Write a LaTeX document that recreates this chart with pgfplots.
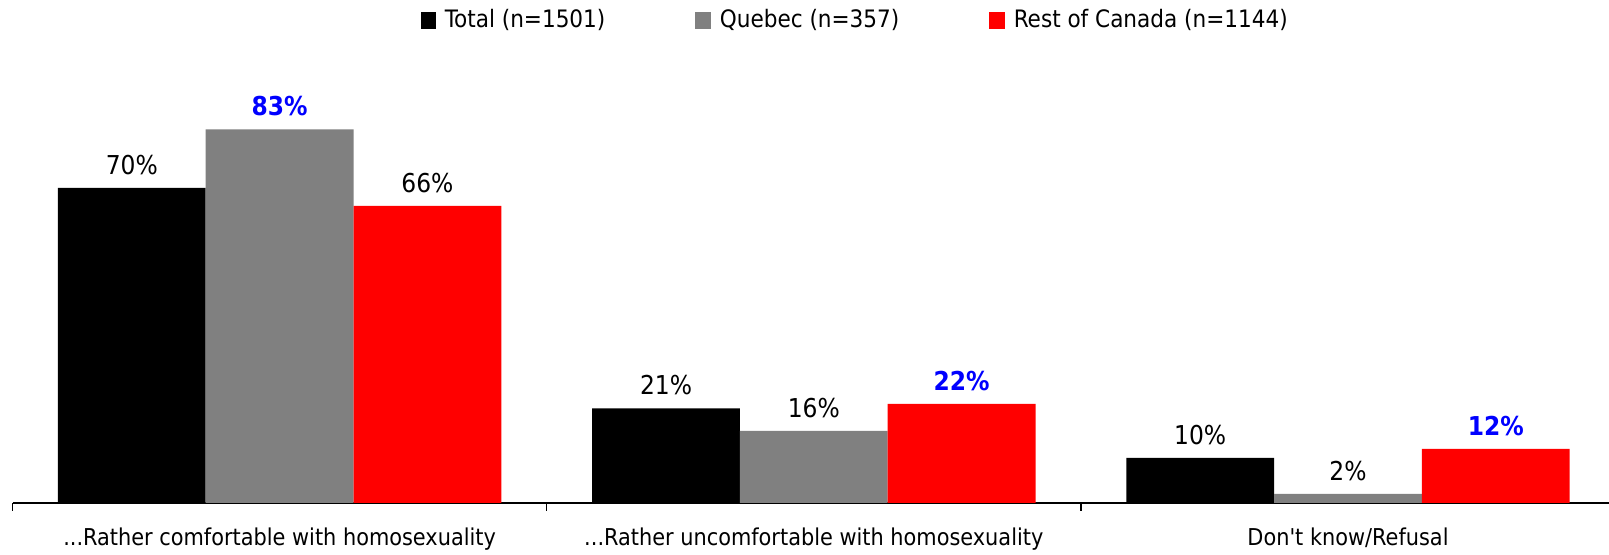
\documentclass[border=0pt]{standalone}
\usepackage{pgfplots}
\pgfplotsset{compat=1.18}
\usepackage{fontspec}
\setmainfont{DejaVu Sans Condensed}
\definecolor{qgray}{RGB}{128,128,128}
\definecolor{rred}{RGB}{255,0,0}
\definecolor{lblue}{RGB}{0,0,255}
\newcommand\ddd{...}
\newcommand\apos{{\XeTeXglyph\XeTeXcharglyph"0027\relax}}
\begin{document}
\fontsize{12}{14}\selectfont
\begin{tikzpicture}
\useasboundingbox (-6.25pt,-26pt) rectangle (798.25pt,251.5pt);
\begin{axis}[
  at={(0,0)}, anchor=south west,
  scale only axis, width=801.3pt, height=225pt,
  xmin=-0.5, xmax=2.5, ymin=0, ymax=100,
  axis x line*=bottom, axis y line=none,
  axis line style={black, line width=0.6pt},
  ybar=0pt, bar width=73.9pt,
  xtick={0,1,2},
  xticklabels={{\ddd Rather comfortable with homosexuality},{\ddd Rather uncomfortable with homosexuality},{Don\apos t know/Refusal}},
  major tick length=0pt,
  minor xtick={-0.5,0.5,1.5,2.5},
  minor tick length=4pt,
  tick align=outside,
  tick style={black, line width=0.6pt},
  xticklabel style={font=\fontsize{11.6}{14}\selectfont, anchor=north, yshift=-8pt},
  point meta=explicit symbolic,
  nodes near coords,
  every node near coord/.append style={font=\fontsize{13}{15}\selectfont, anchor=south, inner sep=0pt, yshift=6.5pt},
  legend columns=3,
  legend style={draw=none, fill=none, at={(0.2544,1)}, anchor=west, yshift=16.25pt, inner sep=0pt,
    font=\fontsize{12}{14}\selectfont,
    /tikz/every odd column/.append style={column sep=2.5pt},
    /tikz/every even column/.append style={column sep=43pt}},
  legend image code/.code={\fill[#1] (0pt,-4.1pt) rectangle (7.7pt,4.1pt);},
]
\addplot[fill=black, draw=none] coordinates {(0,70) [70\%] (1,21) [21\%] (2,10) [10\%]};
\addplot[fill=qgray, draw=none] coordinates {(0,83) [{\bfseries\color{lblue}83\%}] (1,16) [16\%] (2,2) [2\%]};
\addplot[fill=rred, draw=none] coordinates {(0,66) [66\%] (1,22) [{\bfseries\color{lblue}22\%}] (2,12) [{\bfseries\color{lblue}12\%}]};
\legend{Total (n=1501), Quebec (n=357), Rest of Canada (n=1144)}
\end{axis}
\end{tikzpicture}
\end{document}
